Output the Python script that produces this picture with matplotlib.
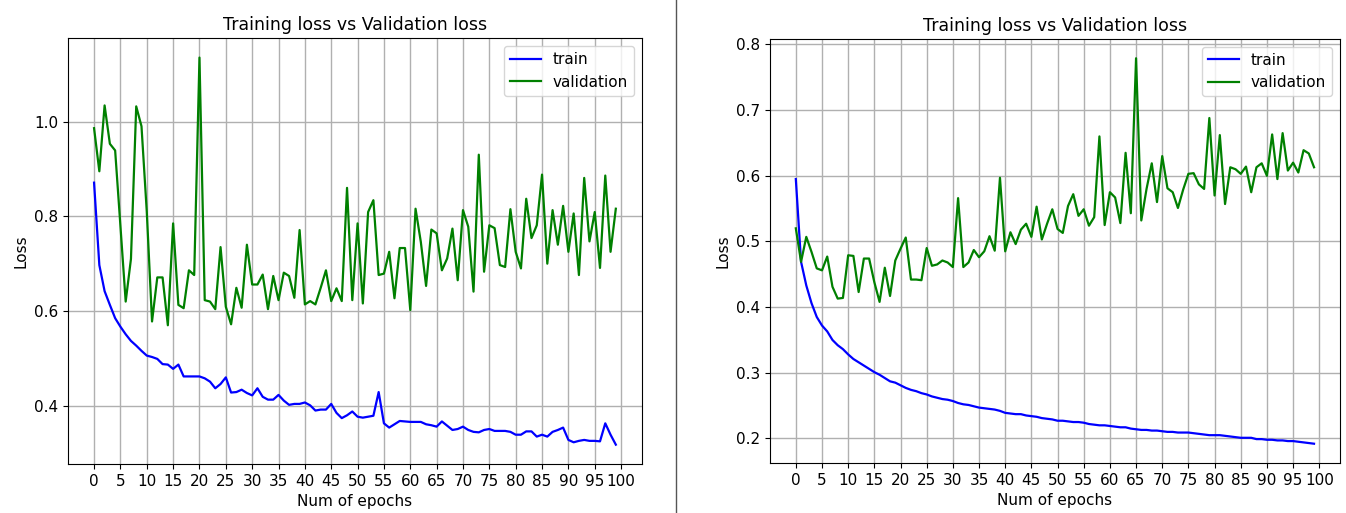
import numpy as np
import matplotlib
matplotlib.use("Agg")
import matplotlib.pyplot as plt
from matplotlib.lines import Line2D

# ---- left run ----
train_a = [0.871, 0.697, 0.642, 0.613, 0.585, 0.567, 0.551, 0.537, 0.527, 0.516,
           0.506, 0.503, 0.499, 0.488, 0.487, 0.478, 0.487, 0.462, 0.462, 0.462,
           0.462, 0.458, 0.451, 0.437, 0.446, 0.460, 0.428, 0.429, 0.434, 0.427,
           0.422, 0.437, 0.419, 0.413, 0.413, 0.423, 0.411, 0.402, 0.404, 0.404,
           0.407, 0.401, 0.390, 0.392, 0.392, 0.404, 0.385, 0.374, 0.380, 0.388,
           0.377, 0.375, 0.377, 0.379, 0.429, 0.363, 0.354, 0.361, 0.368, 0.367,
           0.366, 0.366, 0.366, 0.361, 0.359, 0.356, 0.367, 0.358, 0.349, 0.351,
           0.356, 0.349, 0.345, 0.344, 0.349, 0.351, 0.347, 0.347, 0.347, 0.345,
           0.339, 0.339, 0.346, 0.346, 0.335, 0.339, 0.335, 0.345, 0.349, 0.354,
           0.328, 0.323, 0.326, 0.328, 0.326, 0.326, 0.325, 0.363, 0.339, 0.318]
val_a = [0.986, 0.895, 1.034, 0.953, 0.939, 0.780, 0.620, 0.710, 1.032, 0.990,
         0.810, 0.578, 0.671, 0.671, 0.570, 0.785, 0.613, 0.606, 0.686, 0.676,
         1.135, 0.623, 0.620, 0.604, 0.735, 0.609, 0.572, 0.649, 0.607, 0.740,
         0.656, 0.656, 0.677, 0.604, 0.674, 0.623, 0.681, 0.674, 0.628, 0.771,
         0.614, 0.621, 0.614, 0.649, 0.686, 0.621, 0.648, 0.621, 0.860, 0.623,
         0.785, 0.616, 0.809, 0.834, 0.676, 0.679, 0.725, 0.627, 0.733, 0.733,
         0.602, 0.816, 0.746, 0.653, 0.772, 0.764, 0.686, 0.711, 0.774, 0.665,
         0.813, 0.778, 0.641, 0.930, 0.683, 0.781, 0.775, 0.697, 0.693, 0.815,
         0.725, 0.690, 0.837, 0.754, 0.781, 0.888, 0.700, 0.813, 0.740, 0.822,
         0.725, 0.806, 0.676, 0.881, 0.747, 0.809, 0.691, 0.886, 0.725, 0.816]

# ---- right run ----
train_b = [0.595, 0.469, 0.433, 0.406, 0.385, 0.372, 0.363, 0.350, 0.342, 0.336,
           0.328, 0.321, 0.316, 0.311, 0.306, 0.301, 0.297, 0.292, 0.287, 0.285,
           0.281, 0.277, 0.274, 0.272, 0.269, 0.267, 0.264, 0.262, 0.260, 0.259,
           0.257, 0.254, 0.252, 0.251, 0.249, 0.247, 0.246, 0.245, 0.244, 0.242,
           0.239, 0.238, 0.237, 0.237, 0.235, 0.234, 0.233, 0.231, 0.230, 0.229,
           0.227, 0.227, 0.226, 0.225, 0.225, 0.224, 0.222, 0.221, 0.220, 0.220,
           0.219, 0.218, 0.217, 0.217, 0.215, 0.214, 0.213, 0.213, 0.212, 0.212,
           0.211, 0.210, 0.210, 0.209, 0.209, 0.209, 0.208, 0.207, 0.206, 0.205,
           0.205, 0.205, 0.204, 0.203, 0.202, 0.201, 0.201, 0.201, 0.199, 0.199,
           0.198, 0.198, 0.197, 0.197, 0.196, 0.196, 0.195, 0.194, 0.193, 0.192]
val_b = [0.520, 0.469, 0.507, 0.484, 0.459, 0.456, 0.477, 0.431, 0.413, 0.414,
         0.479, 0.478, 0.423, 0.474, 0.474, 0.438, 0.408, 0.460, 0.417, 0.471,
         0.489, 0.506, 0.442, 0.442, 0.441, 0.490, 0.463, 0.465, 0.471, 0.468,
         0.461, 0.566, 0.461, 0.468, 0.487, 0.476, 0.485, 0.508, 0.486, 0.597,
         0.485, 0.514, 0.496, 0.518, 0.527, 0.507, 0.553, 0.503, 0.527, 0.549,
         0.519, 0.513, 0.554, 0.572, 0.539, 0.549, 0.524, 0.537, 0.660, 0.525,
         0.575, 0.567, 0.528, 0.635, 0.543, 0.779, 0.532, 0.580, 0.619, 0.560,
         0.630, 0.581, 0.575, 0.551, 0.579, 0.603, 0.604, 0.587, 0.580, 0.688,
         0.570, 0.662, 0.557, 0.613, 0.610, 0.603, 0.614, 0.575, 0.613, 0.619,
         0.600, 0.663, 0.595, 0.665, 0.608, 0.620, 0.605, 0.639, 0.634, 0.613]

epochs = np.arange(len(train_a))
xticks = np.arange(0, 101, 5)
yticks_a = [0.4, 0.6, 0.8, 1.0]
yticks_b = [0.2, 0.3, 0.4, 0.5, 0.6, 0.7, 0.8]

fig = plt.figure(figsize=(13.46, 5.13), dpi=100)
ax1 = fig.add_axes([0.0505, 0.0955, 0.4264, 0.830])
ax2 = fig.add_axes([0.572, 0.0975, 0.4235, 0.8265])

for ax, tr, va, yt in [(ax1, train_a, val_a, yticks_a), (ax2, train_b, val_b, yticks_b)]:
    ax.plot(epochs, tr, color='b', linewidth=1.6, label='train')
    ax.plot(epochs, va, color='g', linewidth=1.6, label='validation')
    ax.set_xticks(xticks)
    ax.set_yticks(yt)
    ax.grid(True, color='#b0b0b0', linewidth=1.0)
    ax.set_title('Training loss vs Validation loss', fontsize=12.5)
    ax.set_xlabel('Num of epochs', fontsize=11)
    ax.set_ylabel('Loss', fontsize=11)
    ax.tick_params(labelsize=11)
    ax.legend(loc='upper right', fontsize=11)

# separator between the two screenshots
fig.add_artist(Line2D([676/1346, 676/1346], [0, 1], color='#555555', linewidth=1))

fig.savefig('out.png', dpi=100)
